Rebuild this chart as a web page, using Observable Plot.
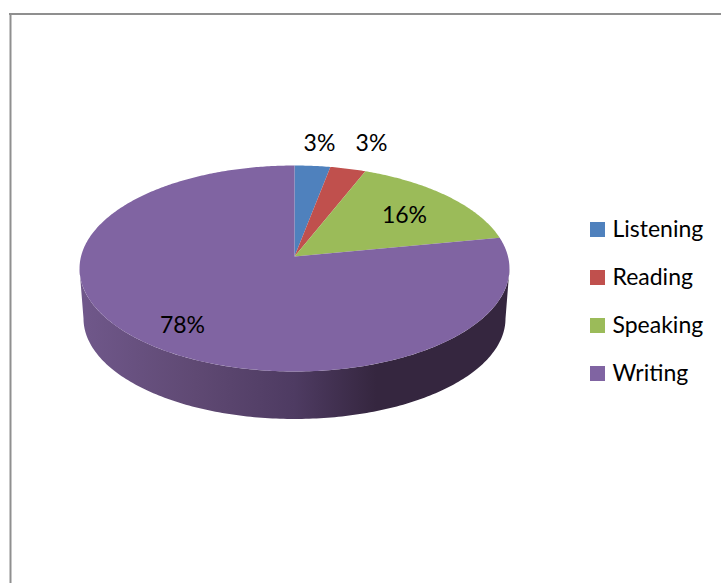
<!DOCTYPE html>
<html>
<head>
<meta charset="utf-8">
<script src="https://cdn.jsdelivr.net/npm/d3@7"></script>
<script src="https://cdn.jsdelivr.net/npm/@observablehq/plot@0.6"></script>
<style>
html,body{margin:0;padding:0;background:#fff;overflow:hidden}
svg{display:block}
</style>
</head>
<body>
<div id="chart"></div>
<script>
const categories = ["Listening", "Reading", "Speaking", "Writing"];
const shares = [3, 3, 16, 78];
const labels = ["3%", "3%", "16%", "78%"];
const colors = ["#4f81bd", "#c0504d", "#9bbb59", "#8064a2"];

// pie geometry (a tilted disc seen in perspective)
const cx = 294, cy = 256, A = 213.5, B = 101.6, k = 0.1165;
const project = (t, r = 1) => {
  const u = r * Math.sin(t), v = r * Math.cos(t), d = 1 + k * v;
  return {x: cx + A * u / d, y: cy - B * v / d};
};
const arcs = d3.pie().sort(null)(shares);
const slices = arcs.flatMap((a, i) => {
  const n = Math.max(2, Math.ceil((a.endAngle - a.startAngle) * 90));
  const pts = [{x: cx, y: cy, category: categories[i]}];
  for (let j = 0; j <= n; ++j) {
    const t = a.startAngle + (a.endAngle - a.startAngle) * j / n;
    pts.push({...project(t), category: categories[i]});
  }
  return pts;
});

// side wall: front half of the top rim, back along the front half of the lower rim
const wcx = 294, wcy = 318, wrx = 211, wry = 100.5, rimCy = 268, rimRx = 215, rimRy = 103;
const wall = [];
for (let j = 0; j <= 180; ++j) {
  const t = Math.PI - Math.PI * j / 180;
  wall.push({x: cx + rimRx * Math.cos(t), y: rimCy + rimRy * Math.sin(t)});
}
for (let j = 0; j <= 180; ++j) {
  const t = Math.PI * j / 180;
  wall.push({x: wcx + wrx * Math.cos(t), y: wcy + wry * Math.sin(t)});
}

const labelLayout = [
  {x: 319, y: 143}, {x: 371, y: 143}, {x: 404, y: 215}, {x: 182, y: 325}
];
const labelRows = labels.map((t, i) => ({text: t, ...labelLayout[i]}));
const legendRows = categories.map((c, i) => ({category: c, y: 229.5 + 48 * i}));

const wallGradient = () => {
  const defs = d3.create("svg:defs");
  const g = defs.append("linearGradient").attr("id", "wallShade");
  [[0, "#70588b"], [0.27, "#5f4973"], [0.5, "#4e3b62"], [0.69, "#35263f"], [1, "#35263f"]]
    .forEach(([o, c]) => g.append("stop").attr("offset", o).attr("stop-color", c));
  return defs.node();
};

const chart = Plot.plot({
  width: 721, height: 583,
  margin: 0,
  x: {domain: [0, 721], range: [0, 721], axis: null},
  y: {domain: [0, 583], range: [0, 583], axis: null},
  color: {domain: categories, range: colors},
  style: {background: "#fff"},
  marks: [
    wallGradient,
    Plot.ruleX([10], {y1: 13.5, y2: 583, stroke: "#8f8f8f", strokeWidth: 2}),
    Plot.ruleY([13.5], {x1: 9, x2: 721, stroke: "#8f8f8f", strokeWidth: 2}),
    Plot.line(wall, {x: "x", y: "y", fill: "url(#wallShade)", stroke: "none"}),
    Plot.line(slices, {x: "x", y: "y", z: "category", fill: "category", stroke: "none"}),
    Plot.text(labelRows, {x: "x", y: "y", text: "text", fontSize: 23, fontFamily: "Lato", fill: "#000"}),
    Plot.rect(legendRows, {x1: 590, x2: 605, y1: d => d.y - 7.5, y2: d => d.y + 7.5, fill: "category"}),
    Plot.text(legendRows, {x: 612, y: "y", text: "category", textAnchor: "start", fontSize: 23, fontFamily: "Lato", fill: "#000"})
  ]
});
document.getElementById("chart").append(chart);
</script>
</body>
</html>
